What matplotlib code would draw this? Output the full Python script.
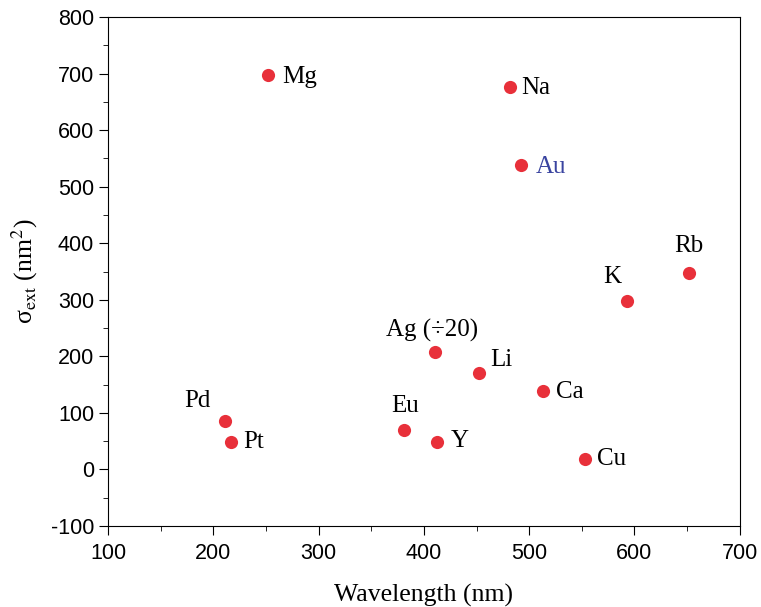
import matplotlib
matplotlib.use("Agg")
import matplotlib.pyplot as plt
from matplotlib.ticker import MultipleLocator, FuncFormatter

# data
elements = ["Mg", "Na", "Au", "Rb", "K", "Ag (\u00f720)", "Li", "Ca", "Pd", "Pt", "Eu", "Y", "Cu"]
wavelength = [252, 482, 492, 652, 593, 411, 452, 513, 211, 217, 381, 412, 553]
sigma_ext = [697, 677, 538, 348, 298, 207, 171, 139, 85, 48, 70, 49, 18]
# label offsets in pixels (dx, dy) and alignment
offsets = [(14, -2, "left"), (11, -1, "left"), (15, -2, "left"), (0, 27, "center"),
           (-15, 24, "center"), (-3, 22, "center"), (12, 13, "left"), (13, -1, "left"),
           (-28, 20, "center"), (12, 0, "left"), (1, 24, "center"), (14, 1, "left"),
           (12, 0, "left")]
label_colors = ["black"] * len(elements)
label_colors[2] = "#3a44a0"

plt.rcParams["mathtext.fontset"] = "stix"

fig = plt.figure(figsize=(7.61, 6.07), dpi=100)
ax = fig.add_axes([0.142, 0.1334, 0.830, 0.8386])

ax.scatter(wavelength, sigma_ext, s=90, color="#e8303a", zorder=3, linewidths=0)

px = 72 / 100
for x, y, name, (dx, dy, ha), c in zip(wavelength, sigma_ext, elements, offsets, label_colors):
    ax.annotate(name, (x, y), xytext=(dx * px, dy * px), textcoords="offset points",
                ha=ha, va="center", fontsize=18, family="Liberation Serif", color=c)

ax.set_xlim(100, 700)
ax.set_ylim(-100, 800)
ax.xaxis.set_major_locator(MultipleLocator(100))
ax.xaxis.set_minor_locator(MultipleLocator(50))
ax.yaxis.set_major_locator(MultipleLocator(100))
ax.yaxis.set_minor_locator(MultipleLocator(50))
ax.yaxis.set_major_formatter(FuncFormatter(lambda v, p: "%d" % v))
ax.tick_params(which="both", direction="out", top=False, right=False)
ax.tick_params(which="major", length=6.5, labelsize=15.5)
ax.tick_params(axis="x", which="major", pad=6)
ax.tick_params(which="minor", length=3.6)
for lab in ax.get_xticklabels() + ax.get_yticklabels():
    lab.set_family("Liberation Sans")

ax.set_xlabel("Wavelength (nm)", fontsize=18.5, family="Liberation Serif", labelpad=14)
ax.set_ylabel("\u03c3$_{\\rm ext}$ (nm$^2$)", fontsize=18.5, family="Liberation Serif", labelpad=8)

fig.savefig("out.png", dpi=100)
